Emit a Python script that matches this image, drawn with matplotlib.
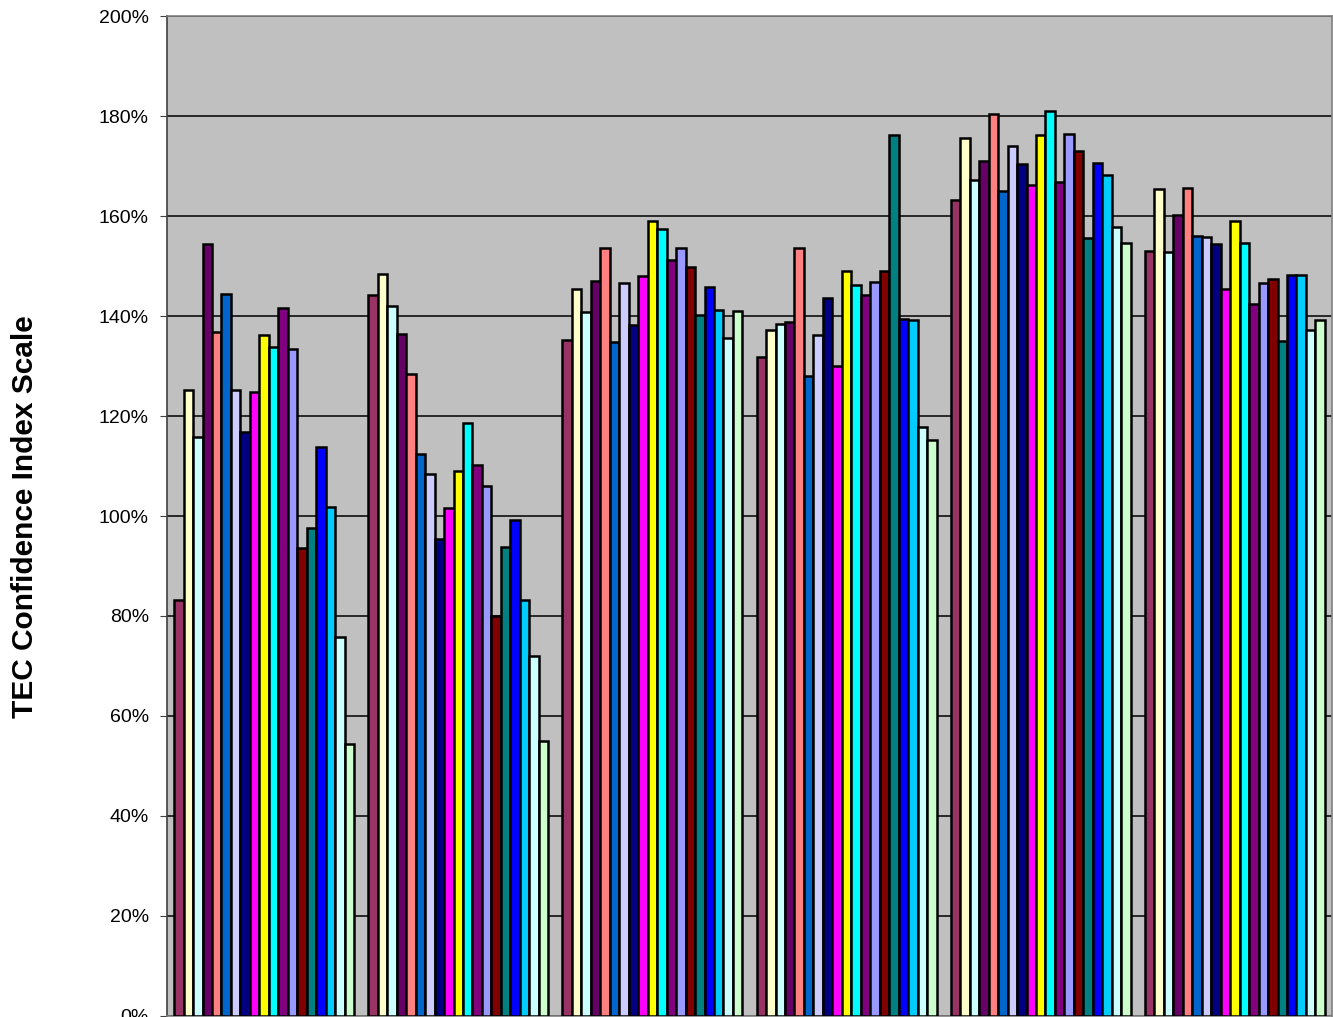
import numpy as np
import matplotlib
matplotlib.use('Agg')
import matplotlib.pyplot as plt
from matplotlib.ticker import PercentFormatter

plt.rcParams['font.family'] = ['Liberation Sans', 'DejaVu Sans']

# six category groups (labels fall below the visible frame)
n_groups = 6

# one colour per series (Excel default chart palette order)
series_colors = [
    '#993366', '#FFFFCC', '#CCFFFF', '#660066', '#FF8080', '#0066CC',
    '#CCCCFF', '#000080', '#FF00FF', '#FFFF00', '#00FFFF', '#800080',
    '#9999FF', '#800000', '#008080', '#0000FF', '#00CCFF', '#CCFFFF',
    '#CCFFCC',
]

# values in percent, one list per group, 19 series each
group1 = [83.2, 125.2, 115.9, 154.4, 136.9, 144.5, 125.3, 116.9, 124.9, 136.3,
          133.9, 141.7, 133.5, 93.6, 97.6, 113.8, 101.8, 75.8, 54.4]
group2 = [144.2, 148.4, 142.1, 136.5, 128.5, 112.5, 108.5, 95.5, 101.6, 109.0,
          118.7, 110.3, 106.1, 80.0, 93.9, 99.3, 83.2, 72.0, 55.0]
group3 = [135.3, 145.4, 140.8, 147.0, 153.7, 134.8, 146.7, 138.3, 148.1, 159.0,
          157.5, 151.2, 153.7, 149.9, 140.3, 145.9, 141.2, 135.7, 141.0]
group4 = [131.9, 137.3, 138.5, 138.9, 153.7, 128.0, 136.3, 143.7, 130.0, 149.0,
          146.2, 144.3, 146.8, 149.1, 176.3, 139.5, 139.2, 117.8, 115.3]
group5 = [163.2, 175.7, 167.3, 171.0, 180.5, 165.0, 174.0, 170.5, 166.3, 176.3,
          181.1, 166.9, 176.5, 173.0, 155.7, 170.6, 168.3, 157.9, 154.7]
group6 = [153.1, 165.5, 152.9, 160.3, 165.6, 156.1, 155.9, 154.4, 145.5, 159.0,
          154.6, 142.5, 146.7, 147.5, 135.0, 148.3, 148.2, 137.2, 139.2]

groups = [group1, group2, group3, group4, group5, group6]
data = np.array(groups).T  # shape (series, groups)

fig = plt.figure(figsize=(13.33, 10.17), dpi=100)
ax = fig.add_axes([167 / 1333, 1 / 1017, 1165 / 1333, 1000 / 1017])
ax.set_facecolor('#C0C0C0')

n_series = data.shape[0]
gap = 1.5  # gap width relative to one bar
w = 1.0 / (n_series + gap)
x = np.arange(n_groups)
for i in range(n_series):
    pos = x + (gap / 2 + i + 0.5) * w
    ax.bar(pos, data[i], width=w, color=series_colors[i],
           edgecolor='black', linewidth=1.8, zorder=3)

ax.set_xlim(0, n_groups)
ax.set_ylim(0, 200)
ax.set_yticks(np.arange(0, 201, 20))
ax.yaxis.set_major_formatter(PercentFormatter(decimals=0))
ax.yaxis.grid(True, color='black', linewidth=1.1, zorder=1)
ax.set_xticks(np.arange(n_groups + 1))
ax.set_xticklabels([])
ax.tick_params(axis='y', labelsize=14, length=5, direction='out',
               color='#404040', pad=8)
ax.tick_params(axis='x', length=0)
for s in ax.spines.values():
    s.set_color('#808080')
    s.set_linewidth(1.2)
ax.spines['left'].set_color('#404040')

fig.text(25 / 1333, 1 - 517 / 1017, 'TEC Confidence Index Scale',
         rotation=90, ha='center', va='center', fontsize=21.5, fontweight='bold')

fig.savefig('out.png', dpi=100)
